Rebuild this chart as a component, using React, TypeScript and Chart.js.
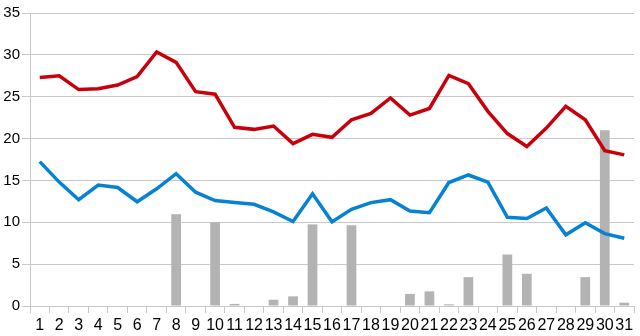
import React, { useEffect, useRef } from "react";
import { Chart, registerables } from "chart.js";

Chart.register(...registerables);

const days = Array.from({ length: 31 }, (_, i) => String(i + 1));
const maxTemp = [27.3, 27.5, 25.85, 25.95, 26.4, 27.4, 30.35, 29.1, 25.6, 25.3, 21.35, 21.1, 21.5, 19.4, 20.5, 20.15, 22.25, 23.0, 24.85, 22.8, 23.6, 27.55, 26.55, 23.25, 20.6, 19.05, 21.25, 23.85, 22.25, 18.55, 18.05];
const minTemp = [17.25, 14.8, 12.7, 14.45, 14.15, 12.45, 14.0, 15.8, 13.6, 12.6, 12.35, 12.15, 11.25, 10.1, 13.4, 10.05, 11.55, 12.35, 12.7, 11.35, 11.15, 14.75, 15.65, 14.8, 10.6, 10.45, 11.7, 8.5, 9.95, 8.65, 8.1];
const rain = [0, 0, 0, 0, 0, 0, 0, 10.95, 0, 10.0, 0.25, 0, 0.75, 1.15, 9.75, 0, 9.65, 0, 0, 1.45, 1.75, 0.2, 3.45, 0, 6.15, 3.85, 0, 0, 3.45, 21.0, 0.4];

export default function App() {
  const ref = useRef<HTMLCanvasElement>(null);
  useEffect(() => {
    document.body.style.margin = "0";
    const chart = new Chart(ref.current!, {
      type: "bar",
      data: {
        labels: days,
        datasets: [
          { type: "line", data: maxTemp, borderColor: "#c9000b", borderWidth: 3.5, pointRadius: 0, tension: 0, order: 1 },
          { type: "line", data: minTemp, borderColor: "#0583d2", borderWidth: 3.5, pointRadius: 0, tension: 0, order: 2 },
          { type: "bar", data: rain, backgroundColor: "#b3b3b3", barPercentage: 0.5, categoryPercentage: 1, order: 3 },
        ],
      },
      options: {
        animation: false,
        responsive: false,
        maintainAspectRatio: false,
        layout: { padding: { top: 13, right: 6, bottom: 0, left: 0 } },
        plugins: { legend: { display: false }, tooltip: { enabled: false } },
        scales: {
          x: {
            grid: {
              offset: true,
              drawOnChartArea: true,
              color: (c: any) => (c.index === 31 ? "#c8c8c8" : "rgba(0,0,0,0)"),
              tickColor: "#c8c8c8",
              tickLength: 7,
            },
            border: { color: "#c8c8c8" },
            ticks: { color: "#000", font: { family: "Liberation Sans", size: 16 }, maxRotation: 0, autoSkip: false, padding: 3 },
            afterFit: (s: any) => { s.height = 30; },
          },
          y: {
            min: 0,
            max: 35,
            ticks: { stepSize: 5, color: "#000", font: { family: "Liberation Sans", size: 15 }, padding: 2 },
            grid: { color: "#c8c8c8", tickLength: 8 },
            border: { color: "#c8c8c8" },
            afterFit: (s: any) => { s.width = 30; },
          },
        },
      },
    });
    return () => chart.destroy();
  }, []);
  return (
    <div style={{ position: "absolute", left: 0, top: 0, width: 640, height: 336 }}>
      <canvas ref={ref} width={640} height={336} />
    </div>
  );
}
